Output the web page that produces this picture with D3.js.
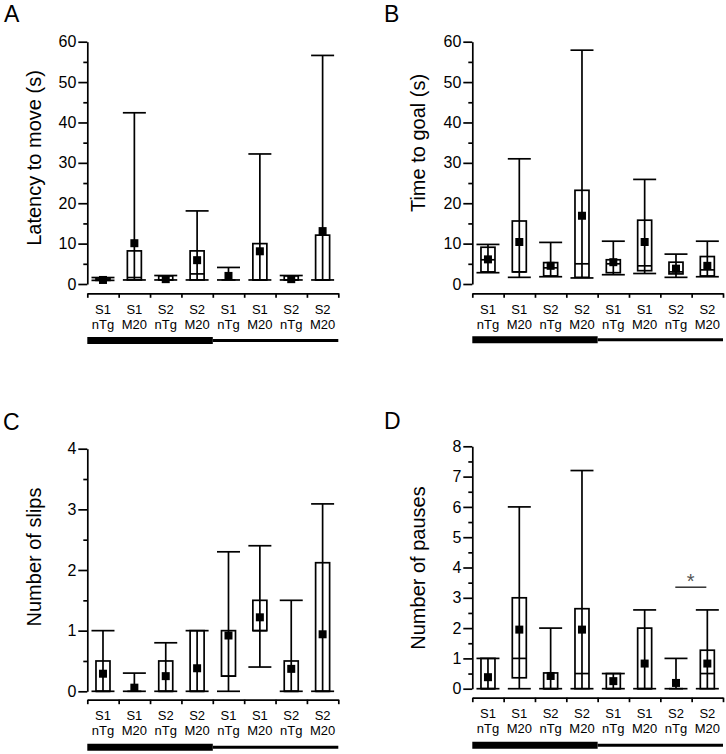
<!DOCTYPE html>
<html>
<head>
<meta charset="utf-8">
<script src="https://cdn.jsdelivr.net/npm/d3@7"></script>
<style>
  html, body { margin: 0; padding: 0; background: #fff; }
  svg { display: block; font-family: "Liberation Sans", Arial, Helvetica, sans-serif; }
</style>
</head>
<body>
<svg id="chart" width="726" height="754"></svg>
<script>
// ---- Data ----
const sessions  = ["S1", "S1", "S2", "S2", "S1", "S1", "S2", "S2"];
const genotypes = ["nTg", "M20", "nTg", "M20", "nTg", "M20", "nTg", "M20"];

// each entry: [whiskerLow, q1, median, q3, whiskerHigh, mean]
const latencyStats = [
  [0.9, 0.9, 1.2, 1.5, 1.6, 1.0],
  [1.0, 1.0, 1.6, 8.2, 42.4, 10.1],
  [1.0, 1.0, 1.0, 2.0, 2.1, 1.2],
  [1.0, 1.0, 2.5, 8.2, 18.1, 5.9],
  [1.0, 1.0, 1.0, 1.0, 4.1, 2.0],
  [1.0, 1.0, 1.0, 10.0, 32.2, 8.1],
  [1.0, 1.0, 1.0, 2.0, 2.1, 1.2],
  [1.0, 1.0, 1.0, 12.1, 56.6, 13.1]
];
const goalStats = [
  [2.8, 3.0, 6.0, 9.1, 9.8, 6.1],
  [1.65, 3.0, 3.0, 15.6, 31.0, 10.4],
  [1.8, 2.0, 4.0, 5.3, 10.3, 4.5],
  [1.5, 1.65, 5.0, 23.2, 57.9, 16.9],
  [2.3, 2.8, 5.0, 6.0, 10.6, 5.4],
  [2.6, 3.3, 4.5, 15.8, 25.9, 10.4],
  [1.65, 2.5, 3.0, 5.4, 7.4, 3.8],
  [1.8, 2.0, 3.5, 6.8, 10.6, 4.5]
];
const slipStats = [
  [0, 0, 0, 0.5, 1.0, 0.29],
  [0, 0, 0, 0, 0.3, 0.06],
  [0, 0, 0, 0.5, 0.8, 0.25],
  [0, 0, 0, 1.0, 1.0, 0.38],
  [0, 0.25, 0.25, 1.0, 2.3, 0.92],
  [0.4, 1.0, 1.0, 1.5, 2.4, 1.22],
  [0, 0, 0, 0.5, 1.5, 0.37],
  [0, 0, 0, 2.12, 3.09, 0.94]
];
const pauseStats = [
  [0, 0, 0, 1.0, 1.0, 0.38],
  [0, 0.36, 1.0, 3.0, 6.0, 1.95],
  [0, 0, 0, 0.52, 2.0, 0.42],
  [0, 0, 0.5, 2.64, 7.2, 1.95],
  [0, 0, 0, 0.5, 0.5, 0.25],
  [0, 0, 0, 2.0, 2.6, 0.83],
  [0, 0, 0, 0, 1.0, 0.19],
  [0, 0, 0.5, 1.27, 2.6, 0.83]
];

const latencyTicks = [0, 10, 20, 30, 40, 50, 60];
const goalTicks    = [0, 10, 20, 30, 40, 50, 60];
const slipTicks    = [0, 1, 2, 3, 4];
const pauseTicks   = [0, 1, 2, 3, 4, 5, 6, 7, 8];

const panels = [
  { letter: "A", title: "Latency to move (s)", stats: latencyStats, ticks: latencyTicks, minor: 5,
    left: 87.3, right: 338.3, top: 41.7, bottom: 284, axisY: 293.3, barY: 340.5,
    letterX: 4, letterY: 22, labelX: 41, labelY: 158 },
  { letter: "B", title: "Time to goal (s)", stats: goalStats, ticks: goalTicks, minor: 5,
    left: 472.3, right: 723, top: 41.7, bottom: 284, axisY: 293.3, barY: 339.7,
    letterX: 384, letterY: 22, labelX: 425, labelY: 143 },
  { letter: "C", title: "Number of slips", stats: slipStats, ticks: slipTicks, minor: 0.5,
    left: 87.3, right: 338.3, top: 448.7, bottom: 691.3, axisY: 699.7, barY: 747.3,
    letterX: 3, letterY: 429.5, labelX: 41, labelY: 557 },
  { letter: "D", title: "Number of pauses", stats: pauseStats, ticks: pauseTicks, minor: 0.5,
    left: 472.3, right: 723, top: 446.3, bottom: 688.7, axisY: 697.7, barY: 745.3,
    letterX: 384, letterY: 428.5, labelX: 425, labelY: 568,
    sig: { from: 6, to: 7, value: 3.35, label: "*" } }
];

const svg = d3.select("#chart");
const LW = 1.7;

panels.forEach(p => {
  const g = svg.append("g");
  const maxV = p.ticks[p.ticks.length - 1];
  const y = d3.scaleLinear().domain([0, maxV]).range([p.bottom, p.top]);
  const xl = d3.scaleLinear().domain([0, sessions.length]).range([p.left, p.right]);
  const x = d3.scaleBand().domain(d3.range(sessions.length)).range([p.left, p.right]).padding(0);
  const cx = i => x(i) + x.bandwidth() / 2;

  // panel letter
  g.append("text").attr("x", p.letterX).attr("y", p.letterY)
    .attr("font-size", 23).attr("fill", "#000").text(p.letter);

  // y axis title
  g.append("text")
    .attr("transform", `translate(${p.labelX},${p.labelY}) rotate(-90)`)
    .attr("text-anchor", "middle").attr("font-size", 20).attr("fill", "#000")
    .text(p.title);

  // minor ticks
  const minorVals = d3.range(0, maxV + 1e-9, p.minor).filter(v => !p.ticks.includes(v));
  g.append("g").attr("transform", `translate(${p.left},0)`)
    .call(d3.axisLeft(y).tickValues(minorVals).tickSize(4).tickSizeOuter(0).tickFormat(""))
    .call(a => a.select(".domain").remove())
    .call(a => a.selectAll("line").attr("stroke-width", LW));

  // major axis
  g.append("g").attr("transform", `translate(${p.left},0)`)
    .call(d3.axisLeft(y).tickValues(p.ticks).tickSize(9).tickSizeOuter(0).tickPadding(2).tickFormat(d3.format("d")))
    .call(a => a.select(".domain").attr("stroke-width", LW))
    .call(a => a.selectAll("line").attr("stroke-width", LW))
    .call(a => a.selectAll("text").attr("font-size", 16).attr("font-family", "Liberation Sans, Arial, sans-serif").attr("fill", "#000"));

  // x axis with boundary ticks
  g.append("g").attr("transform", `translate(0,${p.axisY})`)
    .call(d3.axisBottom(xl).tickValues(d3.range(0, sessions.length + 1)).tickSize(4.5).tickSizeOuter(0).tickFormat(""))
    .call(a => a.select(".domain").attr("stroke-width", LW))
    .call(a => a.selectAll("line").attr("stroke-width", LW));

  // category labels
  const lab = g.append("g").attr("font-size", 13).attr("text-anchor", "middle").attr("fill", "#000");
  sessions.forEach((s, i) => {
    lab.append("text").attr("x", cx(i)).attr("y", p.axisY + 20.5).text(s);
    lab.append("text").attr("x", cx(i)).attr("y", p.axisY + 35.2).text(genotypes[i]);
  });

  // group bars (thick for first half, thin for second half)
  g.append("line").attr("x1", xl(0)).attr("x2", xl(4)).attr("y1", p.barY).attr("y2", p.barY)
    .attr("stroke", "#000").attr("stroke-width", 7);
  g.append("line").attr("x1", xl(4)).attr("x2", xl(8)).attr("y1", p.barY).attr("y2", p.barY)
    .attr("stroke", "#000").attr("stroke-width", 3);

  // box plots
  const boxW = 14, capW = 23, sq = 8;
  p.stats.forEach((d, i) => {
    const [lo, q1, med, q3, hi, mean] = d;
    const c = cx(i);
    const bg = g.append("g").attr("stroke", "#000").attr("stroke-width", LW).attr("fill", "none");
    // whisker
    bg.append("line").attr("x1", c).attr("x2", c).attr("y1", y(lo)).attr("y2", y(hi));
    bg.append("line").attr("x1", c - capW / 2).attr("x2", c + capW / 2).attr("y1", y(hi)).attr("y2", y(hi));
    bg.append("line").attr("x1", c - capW / 2).attr("x2", c + capW / 2).attr("y1", y(lo)).attr("y2", y(lo));
    // box
    if (q3 > q1) {
      bg.append("rect").attr("x", c - boxW / 2).attr("y", y(q3)).attr("width", boxW)
        .attr("height", y(q1) - y(q3));
    }
    // median
    bg.append("line").attr("x1", c - boxW / 2).attr("x2", c + boxW / 2).attr("y1", y(med)).attr("y2", y(med));
    // mean square
    g.append("rect").attr("x", c - sq / 2).attr("y", y(mean) - sq / 2).attr("width", sq).attr("height", sq)
      .attr("fill", "#000");
  });

  // significance marker
  if (p.sig) {
    const s = p.sig;
    g.append("line").attr("x1", cx(s.from) - 0.7).attr("x2", cx(s.to) - 1)
      .attr("y1", y(s.value)).attr("y2", y(s.value)).attr("stroke", "#222").attr("stroke-width", 1.4);
    g.append("text").attr("x", (cx(s.from) + cx(s.to)) / 2 - 1).attr("y", y(s.value) + 1)
      .attr("text-anchor", "middle").attr("font-size", 20).attr("fill", "#555").text(s.label);
  }
});
</script>
</body>
</html>
